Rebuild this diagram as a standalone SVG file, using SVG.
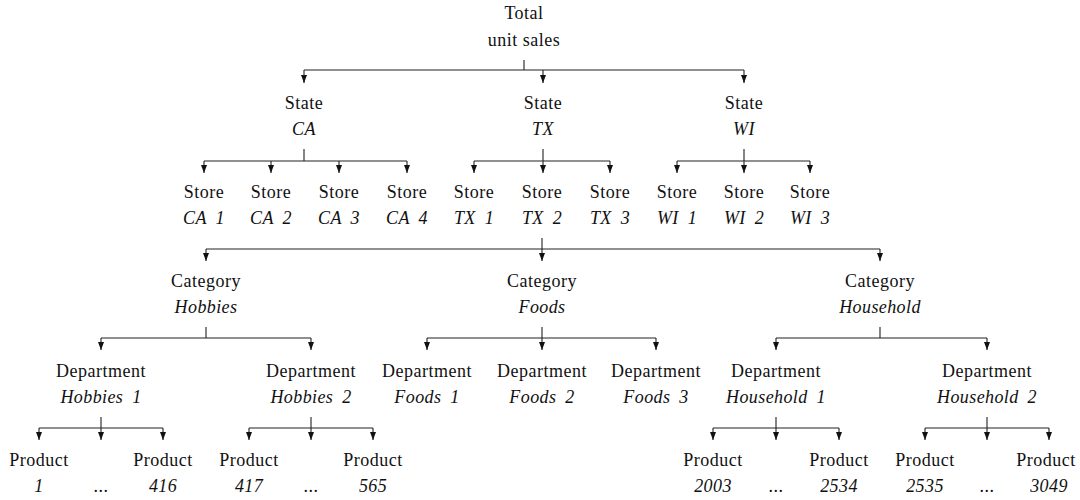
<svg xmlns="http://www.w3.org/2000/svg" width="1080" height="500" viewBox="0 0 1080 500">
<style>
.t{font-family:"Liberation Serif","Times New Roman",serif;font-size:18px;letter-spacing:0.5px;text-anchor:middle;fill:#111}
.i{font-style:italic;letter-spacing:0.4px;word-spacing:4px}
.ln{fill:none;stroke:#222;stroke-width:1.1}
.ar{fill:none;stroke:#222;stroke-width:1.1;marker-end:url(#ah)}
</style>
<defs>
<marker id="ah" viewBox="0 0 8 6" refX="8" refY="3" markerWidth="8" markerHeight="6" markerUnits="userSpaceOnUse" orient="auto">
<path d="M0,0 L8,3 L0,6 z" fill="#111"/>
</marker>
</defs>
<rect width="1080" height="500" fill="#fff"/>
<g id="connectors">
<path class="ln" d="M524,60 V70 M304,70 H744"/>
<path class="ar" d="M304,70 V83"/><path class="ar" d="M543,70 V83"/><path class="ar" d="M744,70 V83"/>
<path class="ln" d="M304,149 V161 M204,161 H407"/>
<path class="ar" d="M204,161 V173"/><path class="ar" d="M271,161 V173"/><path class="ar" d="M339,161 V173"/><path class="ar" d="M407,161 V173"/>
<path class="ln" d="M543,149 V161 M474,161 H610"/>
<path class="ar" d="M474,161 V173"/><path class="ar" d="M543,161 V173"/><path class="ar" d="M610,161 V173"/>
<path class="ln" d="M744,149 V161 M677,161 H810"/>
<path class="ar" d="M677,161 V173"/><path class="ar" d="M744,161 V173"/><path class="ar" d="M810,161 V173"/>
<path class="ln" d="M542,238 V249 M206,249 H880"/>
<path class="ar" d="M206,249 V261"/><path class="ar" d="M542,249 V261"/><path class="ar" d="M880,249 V261"/>
<path class="ln" d="M206,327 V338 M101,338 H311"/>
<path class="ar" d="M101,338 V350"/><path class="ar" d="M311,338 V350"/>
<path class="ln" d="M542,327 V338 M427,338 H656"/>
<path class="ar" d="M427,338 V350"/><path class="ar" d="M542,338 V350"/><path class="ar" d="M656,338 V350"/>
<path class="ln" d="M880,327 V338 M776,338 H987"/>
<path class="ar" d="M776,338 V350"/><path class="ar" d="M987,338 V350"/>
<path class="ln" d="M101,417 V428 M39,428 H163"/>
<path class="ar" d="M39,428 V440"/><path class="ar" d="M101,428 V440"/><path class="ar" d="M163,428 V440"/>
<path class="ln" d="M311,417 V428 M249,428 H373"/>
<path class="ar" d="M249,428 V440"/><path class="ar" d="M311,428 V440"/><path class="ar" d="M373,428 V440"/>
<path class="ln" d="M776,417 V428 M713,428 H839"/>
<path class="ar" d="M713,428 V440"/><path class="ar" d="M776,428 V440"/><path class="ar" d="M839,428 V440"/>
<path class="ln" d="M987,417 V428 M925,428 H1049"/>
<path class="ar" d="M925,428 V440"/><path class="ar" d="M987,428 V440"/><path class="ar" d="M1049,428 V440"/>
</g>
<g id="n-total"><text class="t" x="524" y="19">Total</text><text class="t" x="524" y="46">unit sales</text></g>
<g id="n-state-ca"><text class="t" x="304" y="109">State</text><text class="t i" x="304" y="135">CA</text></g>
<g id="n-state-tx"><text class="t" x="543" y="109">State</text><text class="t i" x="543" y="135">TX</text></g>
<g id="n-state-wi"><text class="t" x="744" y="109">State</text><text class="t i" x="744" y="135">WI</text></g>
<g id="n-store-ca1"><text class="t" x="204" y="198">Store</text><text class="t i" x="204" y="224">CA 1</text></g>
<g id="n-store-ca2"><text class="t" x="271" y="198">Store</text><text class="t i" x="271" y="224">CA 2</text></g>
<g id="n-store-ca3"><text class="t" x="339" y="198">Store</text><text class="t i" x="339" y="224">CA 3</text></g>
<g id="n-store-ca4"><text class="t" x="407" y="198">Store</text><text class="t i" x="407" y="224">CA 4</text></g>
<g id="n-store-tx1"><text class="t" x="474" y="198">Store</text><text class="t i" x="474" y="224">TX 1</text></g>
<g id="n-store-tx2"><text class="t" x="542" y="198">Store</text><text class="t i" x="542" y="224">TX 2</text></g>
<g id="n-store-tx3"><text class="t" x="610" y="198">Store</text><text class="t i" x="610" y="224">TX 3</text></g>
<g id="n-store-wi1"><text class="t" x="677" y="198">Store</text><text class="t i" x="677" y="224">WI 1</text></g>
<g id="n-store-wi2"><text class="t" x="744" y="198">Store</text><text class="t i" x="744" y="224">WI 2</text></g>
<g id="n-store-wi3"><text class="t" x="810" y="198">Store</text><text class="t i" x="810" y="224">WI 3</text></g>
<g id="n-cat-hobbies"><text class="t" x="206" y="287">Category</text><text class="t i" x="206" y="313">Hobbies</text></g>
<g id="n-cat-foods"><text class="t" x="542" y="287">Category</text><text class="t i" x="542" y="313">Foods</text></g>
<g id="n-cat-household"><text class="t" x="880" y="287">Category</text><text class="t i" x="880" y="313">Household</text></g>
<g id="n-dept-hobbies1"><text class="t" x="101" y="377">Department</text><text class="t i" x="101" y="403">Hobbies 1</text></g>
<g id="n-dept-hobbies2"><text class="t" x="311" y="377">Department</text><text class="t i" x="311" y="403">Hobbies 2</text></g>
<g id="n-dept-foods1"><text class="t" x="427" y="377">Department</text><text class="t i" x="427" y="403">Foods 1</text></g>
<g id="n-dept-foods2"><text class="t" x="542" y="377">Department</text><text class="t i" x="542" y="403">Foods 2</text></g>
<g id="n-dept-foods3"><text class="t" x="656" y="377">Department</text><text class="t i" x="656" y="403">Foods 3</text></g>
<g id="n-dept-household1"><text class="t" x="776" y="377">Department</text><text class="t i" x="776" y="403">Household 1</text></g>
<g id="n-dept-household2"><text class="t" x="987" y="377">Department</text><text class="t i" x="987" y="403">Household 2</text></g>
<g id="n-prod-1"><text class="t" x="39" y="466">Product</text><text class="t i" x="39" y="492">1</text></g>
<g id="n-prod-h1-dots"><text class="t" x="101" y="492">...</text></g>
<g id="n-prod-416"><text class="t" x="163" y="466">Product</text><text class="t i" x="163" y="492">416</text></g>
<g id="n-prod-417"><text class="t" x="249" y="466">Product</text><text class="t i" x="249" y="492">417</text></g>
<g id="n-prod-h2-dots"><text class="t" x="311" y="492">...</text></g>
<g id="n-prod-565"><text class="t" x="373" y="466">Product</text><text class="t i" x="373" y="492">565</text></g>
<g id="n-prod-2003"><text class="t" x="713" y="466">Product</text><text class="t i" x="713" y="492">2003</text></g>
<g id="n-prod-hh1-dots"><text class="t" x="776" y="492">...</text></g>
<g id="n-prod-2534"><text class="t" x="839" y="466">Product</text><text class="t i" x="839" y="492">2534</text></g>
<g id="n-prod-2535"><text class="t" x="925" y="466">Product</text><text class="t i" x="925" y="492">2535</text></g>
<g id="n-prod-hh2-dots"><text class="t" x="987" y="492">...</text></g>
<g id="n-prod-3049"><text class="t" x="1046" y="466">Product</text><text class="t i" x="1049" y="492">3049</text></g>
</svg>
